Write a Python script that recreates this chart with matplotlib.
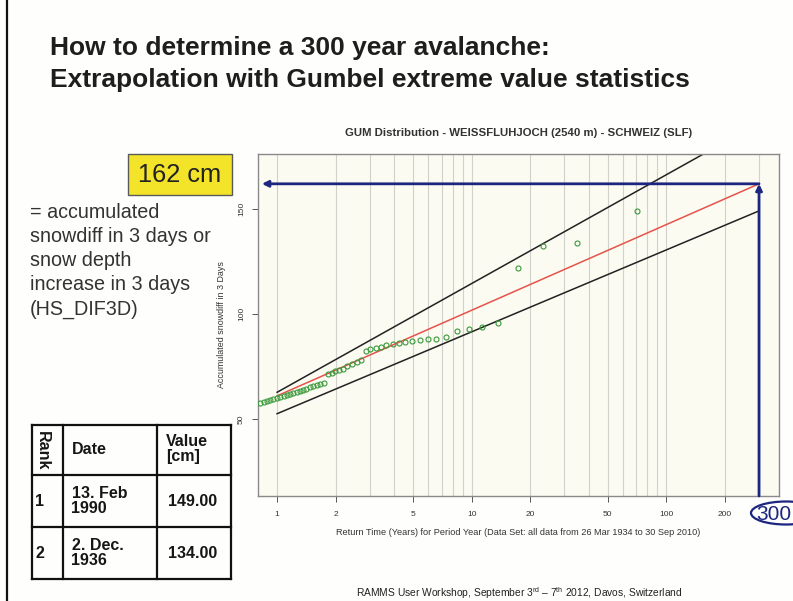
import matplotlib
matplotlib.use("Agg")
import matplotlib.pyplot as plt
from matplotlib.patches import Ellipse, Rectangle

W, H = 793, 601

plt.rcParams['font.family'] = ['Liberation Sans', 'DejaVu Sans']
plt.rcParams['mathtext.fontset'] = 'custom'
plt.rcParams['mathtext.rm'] = 'Liberation Sans'
plt.rcParams['mathtext.it'] = 'Liberation Sans:italic'
plt.rcParams['mathtext.bf'] = 'Liberation Sans:bold'

# ---- data -------------------------------------------------------------
# annual maxima of 3-day snow depth increase, ranked (largest first)
return_period = [70.5, 35.0, 23.2, 17.3, 13.7, 11.3, 9.64, 8.37, 7.38, 6.59,
                 5.94, 5.40, 4.94, 4.55, 4.21, 3.92, 3.65, 3.42, 3.21, 3.02,
                 2.85, 2.70, 2.56, 2.42, 2.30, 2.19, 2.09, 1.99, 1.91, 1.82,
                 1.74, 1.67, 1.60, 1.53, 1.47, 1.41, 1.36, 1.31, 1.26, 1.21,
                 1.16, 1.12, 1.08, 1.03, 0.995, 0.958, 0.922, 0.887, 0.853, 0.821]
snowdiff = [149, 134, 132.5, 122, 95.5, 94, 92.7, 92, 89, 88.2,
            88, 87.6, 87.3, 86.8, 86.2, 85.8, 85.2, 84.5, 84, 83.5,
            82.5, 78, 77, 76, 75, 74, 73.5, 73, 72, 71.5,
            67, 66.5, 66, 65.5, 65, 64.5, 64, 63.5, 63, 62.5,
            62, 61.5, 61, 60.5, 60, 59.5, 59, 58.5, 58, 57.5]

# Gumbel fit and confidence band, evaluated at T = 1 and T = 300 years
fit_T = [1, 300]
fit_mid = [61.0, 162.0]
fit_upper = [62.7, 191.0]
fit_lower = [52.5, 149.1]

target_T = 300
target_value = 162

x_ticks = [1, 2, 5, 10, 20, 50, 100, 200]
y_ticks = [50, 100, 150]
grid_T = [1, 2, 3, 4, 5, 6, 7, 8, 9, 10, 20, 30, 40, 50, 60, 70, 80, 90,
          100, 200, 300]

table_rows = [["1", "13. Feb\n1990", "149.00"],
              ["2", "2. Dec.\n1936", "134.00"]]

# ---- figure -----------------------------------------------------------
fig = plt.figure(figsize=(W / 100, H / 100), dpi=100)
fig.patch.set_facecolor('#fefefc')

def fx(x):
    return x / W

def fy(y):
    return 1 - y / H

# plot axes (pixel box 257.5..779 x 154..496)
ax_l, ax_r, ax_t, ax_b = 257.5, 779, 154, 496
ax = fig.add_axes([fx(ax_l), fy(ax_b), (ax_r - ax_l) / W, (ax_b - ax_t) / H])
ax.set_facecolor('#fbfbf2')
ax.set_xscale('log')
ax.set_xlim(0.793, 380)
ax.set_ylim(13.3, 176.2)

for t in grid_T:
    ax.axvline(t, color='#d2d2cc', lw=0.8, zorder=0)

ax.plot(fit_T, fit_upper, color='#222222', lw=1.1, zorder=2)
ax.plot(fit_T, fit_lower, color='#222222', lw=1.1, zorder=2)
ax.plot(fit_T, fit_mid, color='#e5534b', lw=1.1, zorder=3)
ax.plot(return_period, snowdiff, 'o', ms=3.6, mfc='none', mec='#3a9a3a',
        mew=0.8, zorder=4)

ax.set_xticks(x_ticks)
ax.set_xticklabels([str(t) for t in x_ticks])
ax.xaxis.set_minor_locator(matplotlib.ticker.NullLocator())
ax.set_yticks(y_ticks)
ax.set_yticklabels([str(v) for v in y_ticks], rotation=90, va='center')
ax.tick_params(axis='both', labelsize=6.0, colors='#555555', length=4,
               width=0.7, pad=7, labelcolor='#333333')
ax.tick_params(axis='y', pad=5)
for s in ax.spines.values():
    s.set_color('#8a8a8a')
    s.set_linewidth(1.0)

ax.set_xlabel('Return Time (Years) for Period Year (Data Set: all data from '
              '26 Mar 1934 to 30 Sep 2010)', fontsize=6.6, color='#333333',
              labelpad=7)
ax.set_ylabel('Accumulated snowdiff in 3 Days', fontsize=6.4,
              color='#333333', labelpad=9)
ax.set_title('GUM Distribution - WEISSFLUHJOCH (2540 m) - SCHWEIZ (SLF)',
             fontsize=8.2, weight='bold', color='#333333', pad=13)

# arrow: 300-year value
navy = '#1c2680'
ax.annotate('', xy=(target_T, target_value), xytext=(target_T, 13.3),
            arrowprops=dict(arrowstyle='-|>', color=navy, lw=2.0,
                            mutation_scale=9, shrinkA=0, shrinkB=0),
            annotation_clip=False, zorder=6)
ax.annotate('', xy=(0.835, target_value), xytext=(target_T, target_value),
            arrowprops=dict(arrowstyle='-|>', color=navy, lw=2.0,
                            mutation_scale=9, shrinkA=0, shrinkB=0),
            annotation_clip=False, zorder=6)

# ---- overlay in pixel coordinates ------------------------------------
ov = fig.add_axes([0, 0, 1, 1])
ov.set_xlim(0, W)
ov.set_ylim(H, 0)
ov.axis('off')
ov.patch.set_alpha(0)

# slide border
ov.plot([7, 7], [0, H], color='#111111', lw=1.6)

text_col = '#1e1e1e'
ov.text(50, 48, 'How to determine a 300 year avalanche:', fontsize=19,
        weight='bold', color=text_col, va='center', ha='left')
ov.text(50, 80, 'Extrapolation with Gumbel extreme value statistics',
        fontsize=19, weight='bold', color=text_col, va='center', ha='left')

# value box
ov.add_patch(Rectangle((128, 154), 104, 41, facecolor='#f3e42a',
                       edgecolor='#5a5a5a', lw=1.0))
ov.text(180, 175, f'{target_value} cm', fontsize=18.3, color='#222222',
        ha='center', va='center')

desc = ['= accumulated', 'snowdiff in 3 days or', 'snow depth',
        'increase in 3 days', '(HS_DIF3D)']
for i, line in enumerate(desc):
    ov.text(30, 213 + 24 * i, line, fontsize=14.2, color='#333333',
            ha='left', va='center')

# ranking table
tl, tr, tt, tb = 32, 231, 425, 579
cols = [tl, 62.5, 157, tr]
rows = [tt, 475, 527, tb]
for x in cols:
    ov.plot([x, x], [tt, tb], color='#111111', lw=1.6, solid_capstyle='projecting')
for y in rows:
    ov.plot([tl, tr], [y, y], color='#111111', lw=1.6, solid_capstyle='projecting')

tkw = dict(fontsize=11.5, weight='bold', color='#161616')
ov.text(42, 451, 'Rank', rotation=270, ha='center', va='center', **tkw)
ov.text(71.5, 449, 'Date', ha='left', va='center', **tkw)
ov.text(166, 449, 'Value\n[cm]', ha='left', va='center', linespacing=0.95, **tkw)
for r, row in enumerate(table_rows):
    yc = (rows[r + 1] + rows[r + 2]) / 2
    ov.text(40, yc, row[0], ha='center', va='center', **tkw)
    ov.text(71.5, yc, row[1], ha='left', va='center', linespacing=0.95, **tkw)
    ov.text(193, yc, row[2], ha='center', va='center', **tkw)

# circled return period
ov.add_patch(Ellipse((786, 513), 70, 23, facecolor='none', edgecolor=navy,
                     lw=1.6))
ov.text(791.5, 514, str(target_T), fontsize=15, color=navy, ha='right',
        va='center')

ov.text(519, 593, r'RAMMS User Workshop, September 3$^{\rm rd}$ – 7$^{\rm th}$'
        r' 2012, Davos, Switzerland', fontsize=7.4, color='#222222',
        ha='center', va='center')

fig.savefig('out.png', dpi=100, facecolor=fig.get_facecolor())
